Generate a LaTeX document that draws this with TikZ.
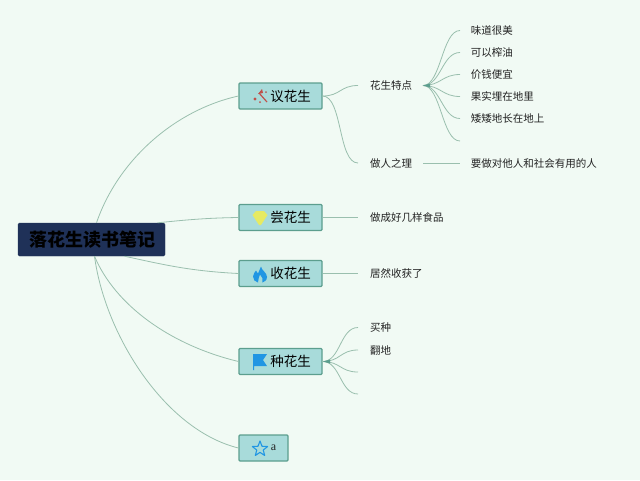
\documentclass[tikz,border=0pt]{standalone}
\usepackage{fontspec}
\setmainfont{Noto Sans CJK SC}
\newfontfamily\latinfont{Liberation Serif}
\definecolor{bgc}{HTML}{F1FAF4}
\definecolor{linkc}{HTML}{9ABFAE}
\definecolor{boxf}{HTML}{A8DBDA}
\definecolor{boxd}{HTML}{5C9E8E}
\definecolor{rootf}{HTML}{1F3158}
\definecolor{txt}{HTML}{222222}
\definecolor{iconb}{HTML}{2196E3}
\definecolor{iconr}{HTML}{C0504A}
\definecolor{icony}{HTML}{E6EA62}
\newcommand{\toptext}[1]{\hspace*{20pt}\raisebox{-0.8pt}{#1}}
\tikzset{
 x=1pt,y=-1pt,
 rootbox/.style={draw=rootf,fill=rootf,rounded corners=1.5pt,minimum width=147pt,minimum height=33pt,inner sep=0pt,font=\fontsize{18}{20}\selectfont\bfseries,text=black},
 topic/.style={draw=boxd,line width=1.1pt,fill=boxf,rounded corners=1pt,minimum width=83pt,minimum height=26pt,inner sep=0pt,font=\fontsize{13.5}{15}\selectfont,text=black},
 leaf/.style={anchor=west,inner xsep=12pt,inner ysep=0pt,text height=10.4pt,text depth=1.5pt,font=\fontsize{10.5}{12}\selectfont,text=txt},
 leafr/.style={leaf,inner xsep=10.6pt},
 link/.style={draw=linkc,line width=0.8pt},
 hub/.style={draw=none,fill=boxd},
}
\begin{document}
\begin{tikzpicture}
\useasboundingbox[fill=bgc] (0,0) rectangle (640,480);
\node[rootbox] (root) at (91.5,239.5) {\hspace*{2pt}\raisebox{-1pt}{落花生读书笔记}};
\node[topic] (t1) at (280.5,96) {\toptext{议花生}};
\node[topic] (t2) at (280.5,217.5) {\toptext{尝花生}};
\node[topic] (t3) at (280.5,273.5) {\toptext{收花生}};
\node[topic] (t4) at (280.5,361.5) {\toptext{种花生}};
\node[topic,minimum width=49pt] (t5) at (263.5,448) {};
\node[font=\fontsize{12}{14}\selectfont\latinfont,text=txt] (t5t) at (273.5,447.5) {a};
% level 2
\node[leaf] (a1) at (358,85.5) {花生特点};
\node[leaf] (a2) at (358,163) {做人之理};
\node[leaf] (b1) at (358,217.5) {做成好几样食品};
\node[leaf] (c1) at (358,273.5) {居然收获了};
\node[leaf] (d1) at (358,327.5) {买种};
\node[leaf] (d2) at (358,350) {翻地};
\coordinate (d3) at (358,372);
\coordinate (d4) at (358,394);
% level 3
\coordinate (h1) at (423,85.5);
\coordinate (h2) at (423,163);
\node[leafr] (e1) at (460,30.5) {味道很美};
\node[leafr] (e2) at (460,52.5) {可以榨油};
\node[leafr] (e3) at (460,74.5) {价钱便宜};
\node[leafr] (e4) at (460,96.5) {果实埋在地里};
\node[leafr] (e5) at (460,118.5) {矮矮地长在地上};
\coordinate (e6) at (460,141);
\node[leafr] (f1) at (460,163) {要做对他人和社会有用的人};
% root links
\draw[link] ([xshift=5pt]root.north) .. controls (118,160) and (175,110) .. (t1.west);
\draw[link] ([xshift=66pt]root.north) .. controls (185,220) and (205,218) .. (t2.west);
\draw[link] ([xshift=33pt]root.south) .. controls (165,265) and (190,271) .. (t3.west);
\draw[link] ([xshift=3pt]root.south) .. controls (115,305) and (170,345) .. (t4.west);
\draw[link] ([xshift=3pt]root.south) .. controls (105,335) and (165,430) .. (t5.west);
% topic links
\draw[link] (t1.east) .. controls +(18,0) and +(-18,0) .. (a1.west);
\draw[link] (t1.east) .. controls +(20,0) and +(-20,0) .. (a2.west);
\draw[link] (t2.east) -- (b1.west);
\draw[link] (t3.east) -- (c1.west);
\draw[link] (t4.east) .. controls +(18,0) and +(-18,0) .. (d1.west);
\draw[link] (t4.east) .. controls +(18,0) and +(-18,0) .. (d2.west);
\draw[link] (t4.east) .. controls +(18,0) and +(-18,0) .. (d3);
\draw[link] (t4.east) .. controls +(18,0) and +(-18,0) .. (d4);
% level 3 links
\foreach \n in {e1,e2,e3,e4,e5}
  \draw[link] (h1) .. controls +(18,0) and +(-18,0) .. (\n.west);
\draw[link] (h1) .. controls +(18,0) and +(-18,0) .. (e6);
\draw[link] (h2) -- (f1.west);
\fill[hub] (423,85.5) -- (430,83.5) -- (430,87.5) -- cycle;
\fill[hub] (323,361.5) -- (330,359.5) -- (330,363.5) -- cycle;
% icons
\begin{scope}[shift={(261,96)}]
 \draw[line width=1.2pt,color=iconr] (-2,-3) -- (6,6);
 \fill[iconr] (-6,3) circle (1.6pt) (-1,6) circle (1pt);
 \fill[iconr] (-3,-2) -- (1,-7) -- (2,-3) -- cycle;
 \fill[iconr!70!gray] (5,-4) circle (1pt);
\end{scope}
\begin{scope}[shift={(260,218)}]
 \fill[icony] (-7.5,-3) -- (-4,-7) -- (4,-7) -- (7.5,-3) -- (1,7) -- (-1,7) -- cycle;
\end{scope}
\begin{scope}[shift={(260,274.5)}]
 \fill[iconb] (1,-8) .. controls (1.5,-4) and (7,-2) .. (7,2.5) .. controls (7,6) and (4,7.5) .. (2.5,8)
   .. controls (3.5,5) and (2,2) .. (0,0) .. controls (0,3) and (-3,5) .. (-2,8)
   .. controls (-5,7.5) and (-7,5) .. (-7,2) .. controls (-7,-1) and (-5,-2) .. (-4,-4)
   .. controls (-3.5,-3) and (-3,-2) .. (-2,-1) .. controls (-1,-3) and (0,-6) .. (1,-8) -- cycle;
\end{scope}
\begin{scope}[shift={(260,361)}]
 \fill[iconb] (-7,-7) -- (7,-7) -- (3,-1) -- (7,5) -- (-6,5) -- (-6,9) -- (-7,9) -- cycle;
\end{scope}
\begin{scope}[shift={(260,449)}]
 \draw[iconb,line width=1.1pt,line join=round] (-90:8) -- (-54:3.4) -- (-18:8) -- (18:3.4) -- (54:8) -- (90:3.4) -- (126:8) -- (162:3.4) -- (198:8) -- (234:3.4) -- cycle;
\end{scope}
\end{tikzpicture}
\end{document}
